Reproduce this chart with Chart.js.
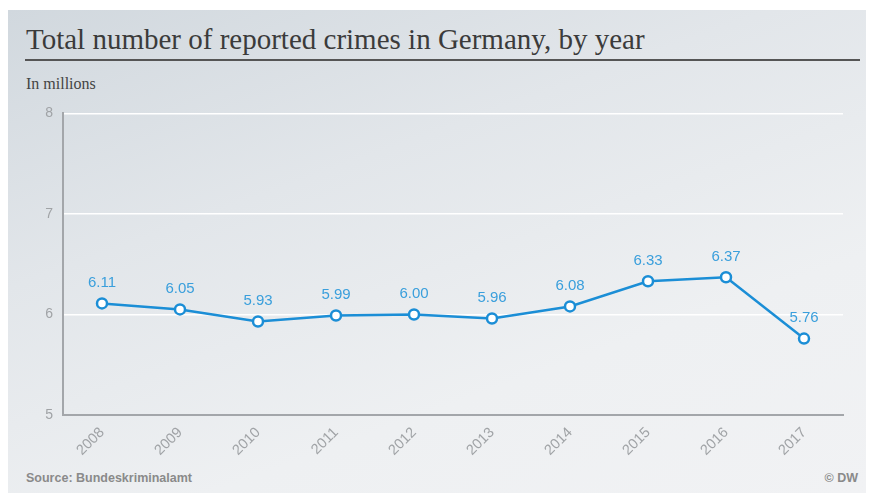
<!DOCTYPE html>
<html>
<head>
<meta charset="utf-8">
<script src="https://cdn.jsdelivr.net/npm/chart.js@4"></script>
<style>
  body { margin: 0; background: #fff; }
  #wrap {
    position: absolute; left: 8px; top: 10px; width: 858px; height: 483px;
    background: linear-gradient(160deg, #d1d8de 0%, #e2e6ea 35%, #eef0f2 70%, #f1f2f4 100%);
    overflow: hidden;
  }
  #title {
    position: absolute; left: 18px; top: 13px;
    font-family: "Liberation Serif", serif; font-size: 29px; color: #3b3b3b;
    white-space: nowrap;
  }
  #rule { position: absolute; left: 17px; top: 49px; width: 835px; height: 2px; background: #555; }
  #unit {
    position: absolute; left: 18px; top: 65px;
    font-family: "Liberation Serif", serif; font-size: 16px; color: #444;
  }
  #source {
    position: absolute; left: 18px; top: 461px;
    font-family: "Liberation Sans", Arial, sans-serif; font-weight: bold; font-size: 12.5px; color: #8a8a8a;
  }
  #credit {
    position: absolute; right: 8px; top: 461px;
    font-family: "Liberation Sans", Arial, sans-serif; font-weight: bold; font-size: 12.5px; color: #8a8a8a;
  }
  #box { position: absolute; left: 0; top: 95px; width: 870px; height: 375px; }
</style>
</head>
<body>
<div id="wrap">
  <div id="title">Total number of reported crimes in Germany, by year</div>
  <div id="rule"></div>
  <div id="unit">In millions</div>
  <div id="source">Source: Bundeskriminalamt</div>
  <div id="credit">© DW</div>
</div>
<div id="box"><canvas id="chart"></canvas></div>
<script>
// Straftaten in Deutschland (Millionen)
const years = ['2008', '2009', '2010', '2011', '2012', '2013', '2014', '2015', '2016', '2017'];
const crimes = [6.11, 6.05, 5.93, 5.99, 6.00, 5.96, 6.08, 6.33, 6.37, 5.76];
const yTicks = [5, 6, 7, 8];

const lineColor = '#1b8ed6';
const labelColor = '#3a9fdc';

// Werte ueber den Punkten
const valueLabels = {
    id: 'valueLabels',
    afterDatasetsDraw(chart) {
        const { ctx } = chart;
        const meta = chart.getDatasetMeta(0);
        ctx.save();
        ctx.font = '15px "Liberation Sans", Arial, sans-serif';
        ctx.fillStyle = labelColor;
        ctx.textAlign = 'center';
        ctx.textBaseline = 'bottom';
        meta.data.forEach((pt, i) => {
            ctx.fillText(crimes[i].toFixed(2), pt.x, pt.y - 13);
        });
        ctx.restore();
    }
};

new Chart(document.getElementById('chart'), {
    type: 'line',
    data: {
        labels: years,
        datasets: [{
            data: crimes,
            borderColor: lineColor,
            borderWidth: 2.5,
            pointRadius: 5,
            pointBorderWidth: 2.5,
            pointBackgroundColor: '#ffffff',
            pointBorderColor: lineColor,
            tension: 0
        }]
    },
    options: {
        responsive: true,
        maintainAspectRatio: false,
        animation: false,
        layout: { padding: { top: 16, right: 27, left: 0, bottom: 0 } },
        plugins: { legend: { display: false }, tooltip: { enabled: false } },
        scales: {
            x: {
                offset: true,
                afterFit: s => { s.height = 55; },
                grid: { display: false, drawTicks: false },
                border: { color: '#a3a6aa', width: 2 },
                ticks: {
                    color: '#a0a3a6',
                    font: { family: '"Liberation Sans", Arial, sans-serif', size: 14.5 },
                    minRotation: 45, maxRotation: 45, padding: 9
                }
            },
            y: {
                min: 5, max: 8,
                afterFit: s => { s.width = 63; },
                afterBuildTicks: s => { s.ticks = yTicks.map(v => ({ value: v })); },
                grid: { color: '#ffffff', lineWidth: 1.5, drawTicks: false },
                border: { color: '#a3a6aa', width: 2 },
                ticks: {
                    color: '#a0a3a6',
                    font: { family: '"Liberation Sans", Arial, sans-serif', size: 14 },
                    padding: 10
                }
            }
        }
    },
    plugins: [valueLabels]
});
</script>
</body>
</html>
